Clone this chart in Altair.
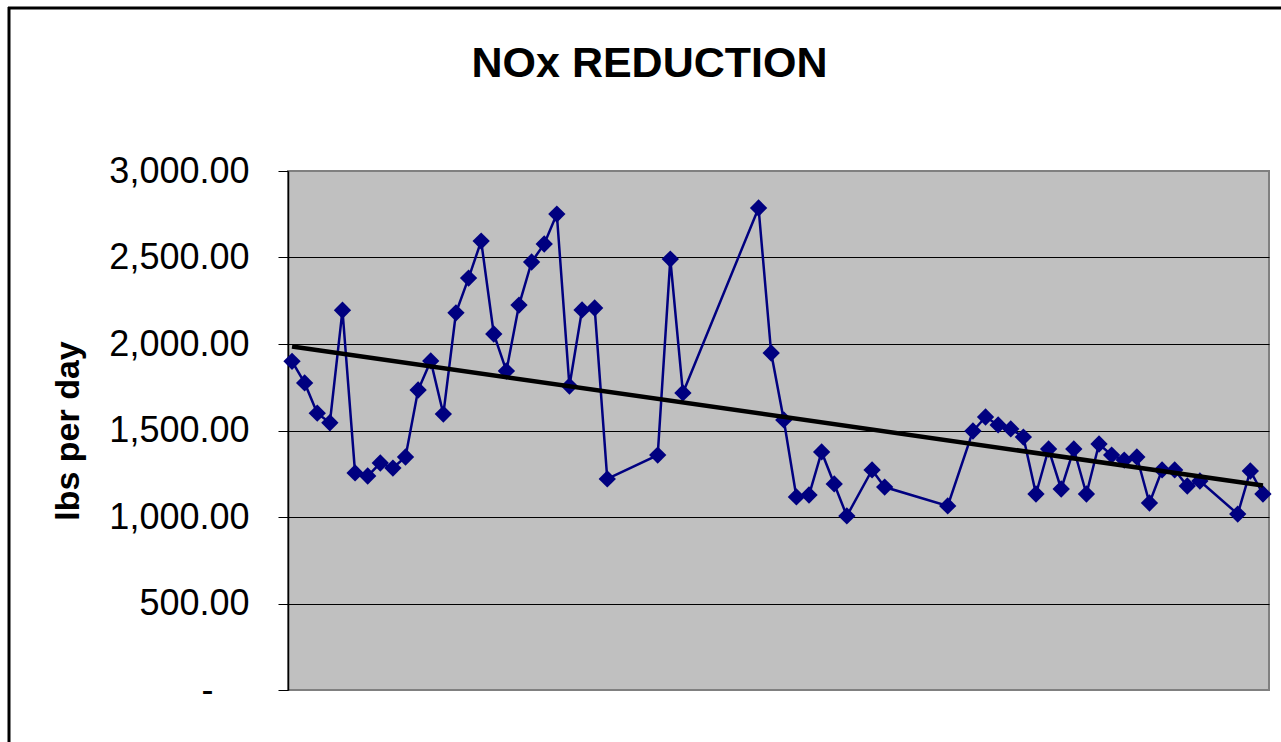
import altair as alt
import pandas as pd

# day index (x position, daily spacing with gaps) and NOx reduction in lbs/day
days = [0, 1, 2, 3, 4, 5, 6, 7, 8, 9, 10, 11, 12, 13, 14, 15, 16, 17, 18, 19,
        20, 21, 22, 23, 24, 25, 29, 30, 31, 37, 38, 39, 40, 41, 42, 43, 44, 46,
        47, 52, 54, 55, 56, 57, 58, 59, 60, 61, 62, 63, 64, 65, 66, 67, 68, 69,
        70, 71, 72, 75, 76, 77]
nox = [1900, 1775, 1600, 1545, 2195, 1255, 1237, 1312, 1283, 1347,
       1734, 1902, 1595, 2180, 2381, 2595, 2058, 1844, 2225, 2474,
       2578, 2751, 1757, 2197, 2208, 1220, 1358, 2491, 1717, 2786,
       1948, 1561, 1116, 1127, 1376, 1191, 1006, 1272, 1173, 1064,
       1497, 1578, 1532, 1509, 1462, 1133, 1393, 1162, 1393, 1133,
       1422, 1358, 1329, 1347, 1081, 1272, 1272, 1179, 1208, 1017,
       1266, 1133]
y_ticks = [0, 500, 1000, 1500, 2000, 2500, 3000]

df = pd.DataFrame({"day": days, "nox": nox})
FONT = "Liberation Sans"

x_enc = alt.X("day:Q", scale=alt.Scale(domain=[-0.32, 77.48], nice=False, zero=False), axis=None)
y_scale = alt.Scale(domain=[0, 3000], nice=False)
y_axis = alt.Axis(
    values=y_ticks,
    title="lbs per day",
    labelExpr="datum.value == 0 ? '-' : format(datum.value, ',.2f')",
    labelPadding=alt.condition("datum.value == 0", alt.value(65), alt.value(29)),
    gridColor=alt.condition("datum.value == 0 || datum.value == 3000",
                            alt.value("#808080"), alt.value("#000000")),
    titleX=-220, titleY=259.5, titleAngle=270,
    titleAlign="center", titleBaseline="middle",
)
y_enc = alt.Y("nox:Q", scale=y_scale, axis=y_axis)

base = alt.Chart(df)
line = base.mark_line(color="#000080", strokeWidth=2.5).encode(x=x_enc, y=y_enc)
pts = base.mark_point(shape="diamond", filled=True, size=300, color="#000080",
                      opacity=1).encode(x=x_enc, y=alt.Y("nox:Q", scale=y_scale))
trend = base.transform_regression("day", "nox").mark_line(
    color="#000000", strokeWidth=4.5).encode(x="day:Q", y="nox:Q")

frame_df = pd.DataFrame({"k": [0]})
left_border = alt.Chart(frame_df).mark_rule(color="#000000", strokeWidth=3).encode(
    x=alt.value(-279), y=alt.value(-164), y2=alt.value(580))
top_border = alt.Chart(frame_df).mark_rule(color="#000000", strokeWidth=3).encode(
    x=alt.value(-280), x2=alt.value(1000), y=alt.value(-163))

chart = alt.layer(line, pts, trend, left_border, top_border).properties(
    width=981,
    height=519,
    autosize=alt.AutoSizeParams(type="none"),
    padding={"left": 288, "top": 171, "right": 12, "bottom": 52},
    background="#ffffff",
    title=alt.TitleParams("NOx REDUCTION", font=FONT, fontSize=43, fontWeight="bold",
                          color="#000000", anchor="middle", frame="group",
                          dx=-129, offset=-80),
).configure_view(
    fill="#C0C0C0", stroke="#808080", strokeWidth=2
).configure_axis(
    domainColor="#000000", domainWidth=1.5,
    tickColor="#000000", tickSize=10, tickWidth=1,
    gridWidth=1,
    labelFont=FONT, labelFontSize=36, labelColor="#000000",
    titleFont=FONT, titleFontSize=34, titleFontWeight="bold", titleColor="#000000",
)

chart.save("out.html", embed_options={"renderer": "svg", "actions": False})
